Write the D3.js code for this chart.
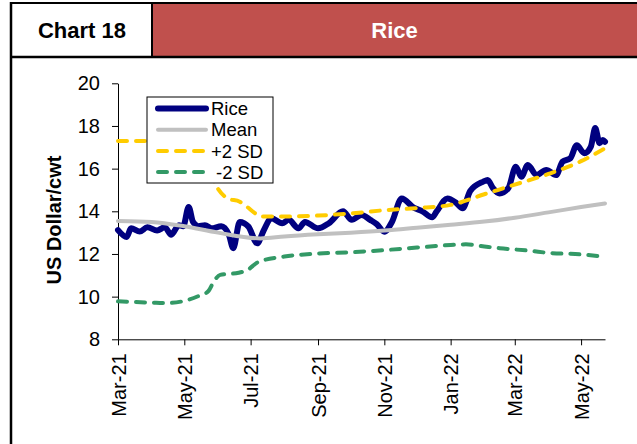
<!doctype html>
<html lang="en">
  <head>
    <meta charset="utf-8">
    <title>Chart 18 - Rice</title>
    <script src="https://cdn.jsdelivr.net/npm/d3@7"></script>
    <style>
      body { margin: 0; background: #fff; }
      svg { display: block; font-family: "Liberation Sans", Arial, sans-serif; }
      .axis path, .axis line { stroke: #000; }
      .axis text { font-size: 20px; fill: #000; }
    </style>
  </head>
  <body>
    <script>

      // rice price, US$/cwt
      var riceDates = ["2021-03-01","2021-03-09","2021-03-13","2021-03-21","2021-03-28","2021-04-06","2021-04-13",
        "2021-04-19","2021-04-26","2021-04-30","2021-05-05","2021-05-09","2021-05-14","2021-05-20","2021-05-26",
        "2021-06-04","2021-06-11","2021-06-15","2021-06-21","2021-06-29","2021-07-07","2021-07-13","2021-07-20",
        "2021-07-30","2021-08-05","2021-08-14","2021-08-20","2021-09-01","2021-09-11","2021-09-24","2021-10-02",
        "2021-10-11","2021-10-19","2021-10-25","2021-11-01","2021-11-08","2021-11-17","2021-11-28","2021-12-06",
        "2021-12-15","2021-12-19","2021-12-29","2022-01-06","2022-01-12","2022-01-19","2022-01-31","2022-02-04",
        "2022-02-09","2022-02-15","2022-02-23","2022-03-02","2022-03-07","2022-03-13","2022-03-21","2022-03-30",
        "2022-04-08","2022-04-14","2022-04-21","2022-04-27","2022-05-04","2022-05-10","2022-05-14","2022-05-18",
        "2022-05-21","2022-05-23"];
      var riceValues = [13.12,12.8,13.2,13.05,13.25,13.1,13.25,
        12.9,13.35,13.3,14.2,13.5,13.3,13.35,13.2,
        13.3,12.9,12.27,13.5,13.28,12.5,13.1,13.67,
        13.44,13.6,13.2,13.5,13.2,13.44,14.0,13.6,
        13.83,13.6,13.4,13.04,13.5,14.6,14.17,14.0,
        13.72,13.98,14.6,14.4,14.14,14.95,15.39,15.47,
        15.08,14.84,15.08,16.09,15.62,16.17,15.7,15.94,
        15.7,16.33,16.48,17.1,16.72,17.03,17.9,17.19,
        17.34,17.26];

      // mean and +/- 2 standard deviation bands
      var mean = [["2021-03-01",13.55],["2021-04-01",13.5],["2021-05-01",13.3],["2021-06-01",13.0],
        ["2021-07-10",12.73],["2021-08-01",12.82],["2021-09-01",12.92],["2021-10-01",13.0],["2021-11-01",13.1],
        ["2021-12-01",13.23],["2022-01-01",13.37],["2022-02-01",13.52],["2022-03-01",13.7],["2022-04-01",13.95],
        ["2022-05-01",14.2],["2022-05-23",14.37]];
      var plus2sd = [["2021-03-01",17.3],["2021-04-01",17.3],["2021-05-01",17.2],["2021-05-20",16.4],
        ["2021-06-01",15.05],["2021-06-10",14.6],["2021-06-21",14.45],["2021-06-28",14.2],["2021-07-04",13.95],
        ["2021-07-10",13.76],["2021-08-01",13.76],["2021-09-01",13.8],["2021-10-01",13.9],["2021-11-01",14.05],
        ["2021-12-01",14.15],["2022-01-01",14.3],["2022-02-01",14.8],["2022-03-01",15.25],["2022-04-01",15.75],
        ["2022-05-01",16.35],["2022-05-23",16.95]];
      var minus2sd = [["2021-03-01",9.78],["2021-04-01",9.72],["2021-04-15",9.7],["2021-05-01",9.8],
        ["2021-05-15",10.05],["2021-05-23",10.25],["2021-05-28",10.7],["2021-06-03",11.02],["2021-06-20",11.12],
        ["2021-06-28",11.25],["2021-07-08",11.62],["2021-08-01",11.88],["2021-09-01",12.02],["2021-10-01",12.08],
        ["2021-11-01",12.18],["2021-12-01",12.3],["2022-01-01",12.42],["2022-01-15",12.45],["2022-02-01",12.35],
        ["2022-02-15",12.27],["2022-03-15",12.15],["2022-04-01",12.05],["2022-05-01",11.98],["2022-05-23",11.86]];

      var xTicks = ["2021-03-01","2021-05-01","2021-07-01","2021-09-01","2021-11-01","2022-01-01","2022-03-01","2022-05-01"];
      var yTicks = [8, 10, 12, 14, 16, 18, 20];

      var parse = d3.timeParse("%Y-%m-%d");

      var rice = riceDates.map(function(d, i){ return {date: parse(d), value: riceValues[i]}; });
      function toPoints(arr){ return arr.map(function(d){ return {date: parse(d[0]), value: d[1]}; }); }

      var series = [
        {name: "Rice",   data: rice,               color: "#000080", width: 6,   dash: null},
        {name: "Mean",   data: toPoints(mean),     color: "#c0c0c0", width: 4,   dash: null},
        {name: "+2 SD",  data: toPoints(plus2sd),  color: "#ffcc00", width: 4,   dash: "9,9"},
        {name: "-2 SD",  data: toPoints(minus2sd), color: "#339966", width: 4,   dash: "9,9"}
      ];

      var W = 637, H = 444;
      var plot = {left: 118, right: 605, top: 83.3, bottom: 339.3};

      var svg = d3.select("body")
        .append("svg")
        .attr("width", W)
        .attr("height", H);

      // frame + header
      svg.append("rect")
        .attr("x", 152).attr("y", 3)
        .attr("width", W - 152).attr("height", 54)
        .attr("fill", "#c0504d");
      svg.append("line").attr("x1", 11).attr("x2", W).attr("y1", 3).attr("y2", 3)
        .attr("stroke", "#000").attr("stroke-width", 2);
      svg.append("line").attr("x1", 11).attr("x2", W).attr("y1", 57).attr("y2", 57)
        .attr("stroke", "#000").attr("stroke-width", 2.5);
      svg.append("line").attr("x1", 11).attr("x2", 11).attr("y1", 2).attr("y2", H)
        .attr("stroke", "#000").attr("stroke-width", 2.5);
      svg.append("line").attr("x1", 152).attr("x2", 152).attr("y1", 3).attr("y2", 57)
        .attr("stroke", "#000").attr("stroke-width", 2);

      svg.append("text")
        .attr("x", 82).attr("y", 38)
        .attr("text-anchor", "middle")
        .style("font-family", "'Liberation Sans Narrow', 'Arial Narrow', 'Liberation Sans', sans-serif")
        .style("font-size", "22px").style("font-weight", "bold")
        .text("Chart 18");
      svg.append("text")
        .attr("x", (152 + W) / 2).attr("y", 38)
        .attr("text-anchor", "middle")
        .attr("fill", "#fff")
        .style("font-family", "'Liberation Sans Narrow', 'Arial Narrow', 'Liberation Sans', sans-serif")
        .style("font-size", "22px").style("font-weight", "bold")
        .text("Rice");

      var x = d3.scaleTime()
        .domain([parse("2021-03-01"), parse("2022-05-23")])
        .range([plot.left, plot.right]);

      var y = d3.scaleLinear()
        .domain([8, 20])
        .range([plot.bottom, plot.top]);

      var line = d3.line()
        .x(function(d){ return x(d.date); })
        .y(function(d){ return y(d.value); })
        .curve(d3.curveMonotoneX);

      // axes
      svg.append("g")
        .attr("class", "axis")
        .attr("transform", "translate(" + plot.left + ",0)")
        .call(d3.axisLeft(y).tickValues(yTicks).tickSize(6).tickSizeOuter(0).tickPadding(12))
        .call(function(g){ g.select(".domain").attr("stroke-width", 1); });

      var xAxis = svg.append("g")
        .attr("class", "axis")
        .attr("transform", "translate(0," + plot.bottom + ")")
        .call(d3.axisBottom(x).tickValues(xTicks.map(parse)).tickFormat(d3.timeFormat("%b-%y"))
          .tickSize(6).tickSizeOuter(0));
      xAxis.selectAll("text")
        .attr("transform", "rotate(-90)")
        .attr("x", -14)
        .attr("y", 0)
        .attr("dy", "0.35em")
        .style("text-anchor", "end");

      svg.append("text")
        .attr("transform", "translate(61,220) rotate(-90)")
        .attr("text-anchor", "middle")
        .style("font-size", "20px").style("font-weight", "bold")
        .text("US Dollar/cwt");

      // lines
      svg.selectAll(".series")
        .data(series)
        .enter()
        .append("path")
        .attr("class", "series")
        .attr("d", function(d){ return line(d.data); })
        .attr("fill", "none")
        .attr("stroke", function(d){ return d.color; })
        .attr("stroke-width", function(d){ return d.width; })
        .attr("stroke-dasharray", function(d){ return d.dash; })
        .attr("stroke-linecap", "round")
        .attr("stroke-linejoin", "round");

      // legend
      var legend = svg.append("g").attr("transform", "translate(147,97)");
      legend.append("rect")
        .attr("width", 126).attr("height", 86)
        .attr("fill", "#fff").attr("stroke", "#000").attr("stroke-width", 1);

      var item = legend.selectAll(".item")
        .data(series)
        .enter()
        .append("g")
        .attr("transform", function(d, i){ return "translate(0," + (11.5 + i * 21.2) + ")"; });
      item.append("line")
        .attr("x1", 11).attr("x2", 59)
        .attr("stroke", function(d){ return d.color; })
        .attr("stroke-width", function(d){ return d.width; })
        .attr("stroke-dasharray", function(d){ return d.dash; })
        .attr("stroke-linecap", "round");
      item.append("text")
        .attr("x", function(d){ return d.name == "-2 SD" ? 69 : 64; })
        .attr("dy", "0.36em")
        .style("font-size", "18.5px")
        .text(function(d){ return d.name; });

    </script>
  </body>
</html>
